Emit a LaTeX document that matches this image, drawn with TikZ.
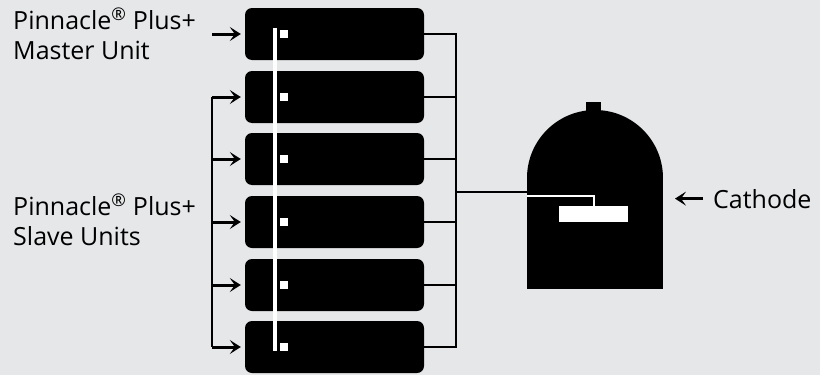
\documentclass[tikz,border=0pt]{standalone}
\usepackage{fontspec}
\setmainfont{Open Sans}
\usetikzlibrary{arrows.meta}
\definecolor{bggray}{HTML}{E6E7E9}

\tikzset{
  unit/.style={fill=black, rounded corners=7pt, minimum width=179pt, minimum height=52pt, inner sep=0pt},
  led/.style={fill=white, minimum size=8pt, inner sep=0pt},
  plate/.style={fill=white, minimum width=69pt, minimum height=16pt, inner sep=0pt},
  wire/.style={line width=2.5pt, line join=miter},
  lead/.style={white, line width=2pt},
  feed/.style={line width=3pt, -{Stealth[length=11pt,width=14pt,inset=5pt]}},
  lbl/.style={font=\fontsize{25}{29.5}\selectfont, align=left, inner sep=0pt}
}
\newcommand{\regmark}{\textsuperscript{®}}

\begin{document}
\begin{tikzpicture}[x=1pt,y=-1pt]
  \fill[bggray] (0,0) rectangle (820,375);
  \useasboundingbox (0,0) rectangle (820,375);
  % rack of units
  \foreach \i/\y in {1/34,2/97,3/159,4/222,5/285,6/347}{
    \node[unit] (u\i) at (334.5,\y) {};
    \node[led] (l\i) at (283.5,\y) {};
  }
  \draw[white, line width=4pt] ([xshift=-4.5pt,yshift=2pt]l1.north west) -- ([xshift=-4.5pt]l6.south west);
  % output bus
  \coordinate (bus) at (456,0);
  \draw[wire] (u1.east) -- (u1.east -| bus) -- (u6.east -| bus) -- (u6.east);
  \foreach \i in {2,...,5}
    \draw[wire] (u\i.east) -- (u\i.east -| bus);
  % cathode
  \fill (527,178) rectangle (663,289);
  \fill (595,178) circle (68);
  \fill (586,102) rectangle (601,111);
  \coordinate (tank) at (527,192);
  \coordinate (feedin) at (527,196);
  \node[plate] (pl) at (593.5,214) {};
  \draw[wire] (tank -| bus) -- (tank);
  \draw[lead] (feedin) -| (pl.north);
  % inputs
  \coordinate (fork) at (212,0);
  \draw[wire] (u2.west -| fork) -- (u6.west -| fork);
  \foreach \i in {1,...,6}
    \draw[feed] (u\i.west -| fork) -- ([xshift=-4pt]u\i.west);
  % labels
  \node[lbl, anchor=base west] (master) at (13,59) {Pinnacle\regmark{} Plus+\\Master Unit};
  \node[lbl, anchor=base west] (slave) at (13,245) {Pinnacle\regmark{} Plus+\\Slave Units};
  \node[lbl, anchor=base west] (cathlbl) at (713,208) {Cathode};
  \draw[feed] ([xshift=-10pt]cathlbl.west) -- ([xshift=-38pt]cathlbl.west);
\end{tikzpicture}
\end{document}
